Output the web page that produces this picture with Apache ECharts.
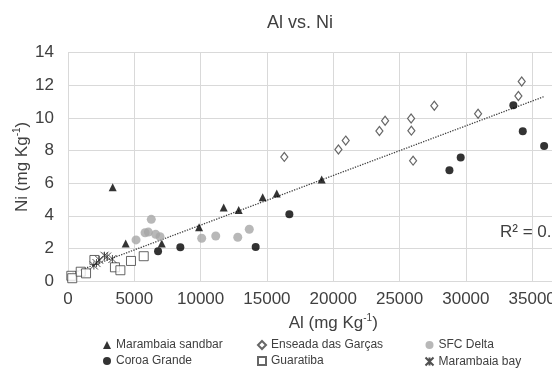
<!DOCTYPE html>
<html>
<head>
<meta charset="utf-8">
<script src="https://cdn.jsdelivr.net/npm/echarts@6/dist/echarts.min.js"></script>
<style>
html,body{margin:0;padding:0;overflow:hidden;background:#fff;}
#c{width:620px;height:385px;}
</style>
</head>
<body>
<div id="c"></div>
<script>
const sandbarAl = [3370,4350,7070,9880,11740,12870,14680,15740,19130];
const sandbarNi = [5.75,2.3,2.3,3.3,4.5,4.35,5.13,5.37,6.22];
const coroaAl = [6790,8470,14150,16690,28760,29610,33580,34290,35900];
const coroaNi = [1.82,2.07,2.09,4.09,6.79,7.57,10.78,9.18,8.28];
const enseadaAl = [16310,20390,20940,23480,23910,25870,25890,26020,27620,30920,33960,34210];
const enseadaNi = [7.61,8.06,8.61,9.2,9.83,9.96,9.22,7.38,10.75,10.26,11.35,12.23];
const sfcAl = [5130,5810,6060,6280,6610,6940,10080,11140,12800,13670];
const sfcNi = [2.52,2.96,3.0,3.78,2.86,2.72,2.62,2.76,2.68,3.17];
const guaratibaAl = [250,320,960,1360,1990,3540,3950,4750,5710];
const guaratibaNi = [0.32,0.17,0.57,0.47,1.29,0.84,0.66,1.23,1.52];
const bayAl = [1950,2150,2350,2750,2950,3350];
const bayNi = [0.95,1.1,1.3,1.55,1.5,1.35];
const trendAl = [150,35900];
const trendNi = [0.43,11.31];
const seriesNames = ['Marambaia sandbar','Coroa Grande','Enseada das Garças','SFC Delta','Guaratiba','Marambaia bay'];
const rSquaredText = 'R² = 0.';

const zip = (a,b) => a.map((v,i)=>[v,b[i]]);
const FONT = "'Liberation Sans',Arial,sans-serif";
const star = 'path://M0,0L10,10M10,0L0,10M5,0L5,10';

const chart = echarts.init(document.getElementById('c'));
const legendBase = {orient:'vertical', itemWidth:8, itemHeight:8, itemGap:4, height:40,
  textStyle:{fontFamily:FONT, fontSize:12, color:'#404040'}, top:334};
const supRich = {a:{fontFamily:FONT,fontSize:17,color:'#404040',lineHeight:20},
                 s:{fontFamily:FONT,fontSize:10,color:'#404040',verticalAlign:'top',lineHeight:10}};
chart.setOption({
  animation:false,
  textStyle:{fontFamily:FONT},
  title:{text:'Al vs. Ni', left:262, top:9,
    textStyle:{fontFamily:FONT, fontSize:18, fontWeight:'normal', color:'#404040'}},
  grid:{left:68, right:21.5, top:52.7, bottom:104, containLabel:false, outerBoundsMode:'none'},
  xAxis:{type:'value', min:0, max:40000, interval:5000,
    name:'{a|Al (mg Kg}{s|-1}{a|)}', nameLocation:'middle', nameGap:26,
    nameTextStyle:{rich:supRich},
    axisLine:{show:true, lineStyle:{color:'#d9d9d9'}}, axisTick:{show:false},
    axisLabel:{fontFamily:FONT, fontSize:17, color:'#404040', margin:10, formatter:v=>String(v)},
    splitLine:{show:true, lineStyle:{color:'#d9d9d9', width:1}}},
  yAxis:{type:'value', min:0, max:14, interval:2,
    name:'{a|Ni (mg Kg}{s|-1}{a|)}', nameLocation:'middle', nameGap:36, nameRotate:90,
    nameMoveOverlap:false,
    nameTextStyle:{rich:supRich},
    axisLine:{show:false}, axisTick:{show:false},
    axisLabel:{fontFamily:FONT, fontSize:17, color:'#404040', margin:14},
    splitLine:{show:true, lineStyle:{color:'#d9d9d9', width:1}}},
  legend:[
    Object.assign({}, legendBase, {left:98, data:[seriesNames[0], seriesNames[1]]}),
    Object.assign({}, legendBase, {left:252, data:[seriesNames[2], seriesNames[4]]}),
    Object.assign({}, legendBase, {left:418, data:[seriesNames[3], seriesNames[5]]})
  ],
  graphic:[{type:'text', left:500, top:224,
    style:{text:rSquaredText, font:"17px "+FONT, fill:'#404040'}}],
  series:[
    {name:'trend', type:'line', data:zip(trendAl,trendNi), symbol:'none', silent:true,
     lineStyle:{type:'dotted', color:'#404040', width:1.3}, z:1},
    {name:seriesNames[0], type:'scatter', data:zip(sandbarAl,sandbarNi), symbol:'triangle', symbolSize:8,
     itemStyle:{color:'#000'}},
    {name:seriesNames[1], type:'scatter', data:zip(coroaAl,coroaNi), symbol:'circle', symbolSize:8,
     itemStyle:{color:'#000'}},
    {name:seriesNames[2], type:'scatter', data:zip(enseadaAl,enseadaNi), symbol:'diamond', symbolSize:[7,9],
     itemStyle:{color:'#fff', borderColor:'#404040', borderWidth:1.2}},
    {name:seriesNames[3], type:'scatter', data:zip(sfcAl,sfcNi), symbol:'circle', symbolSize:9,
     itemStyle:{color:'#a6a6a6'}},
    {name:seriesNames[4], type:'scatter', data:zip(guaratibaAl,guaratibaNi), symbol:'rect', symbolSize:9,
     itemStyle:{color:'#fff', borderColor:'#404040', borderWidth:1}},
    {name:seriesNames[5], type:'scatter', data:zip(bayAl,bayNi), symbol:star, symbolSize:8,
     itemStyle:{color:'none', borderColor:'#262626', borderWidth:1}}
  ]
});
</script>
</body>
</html>
